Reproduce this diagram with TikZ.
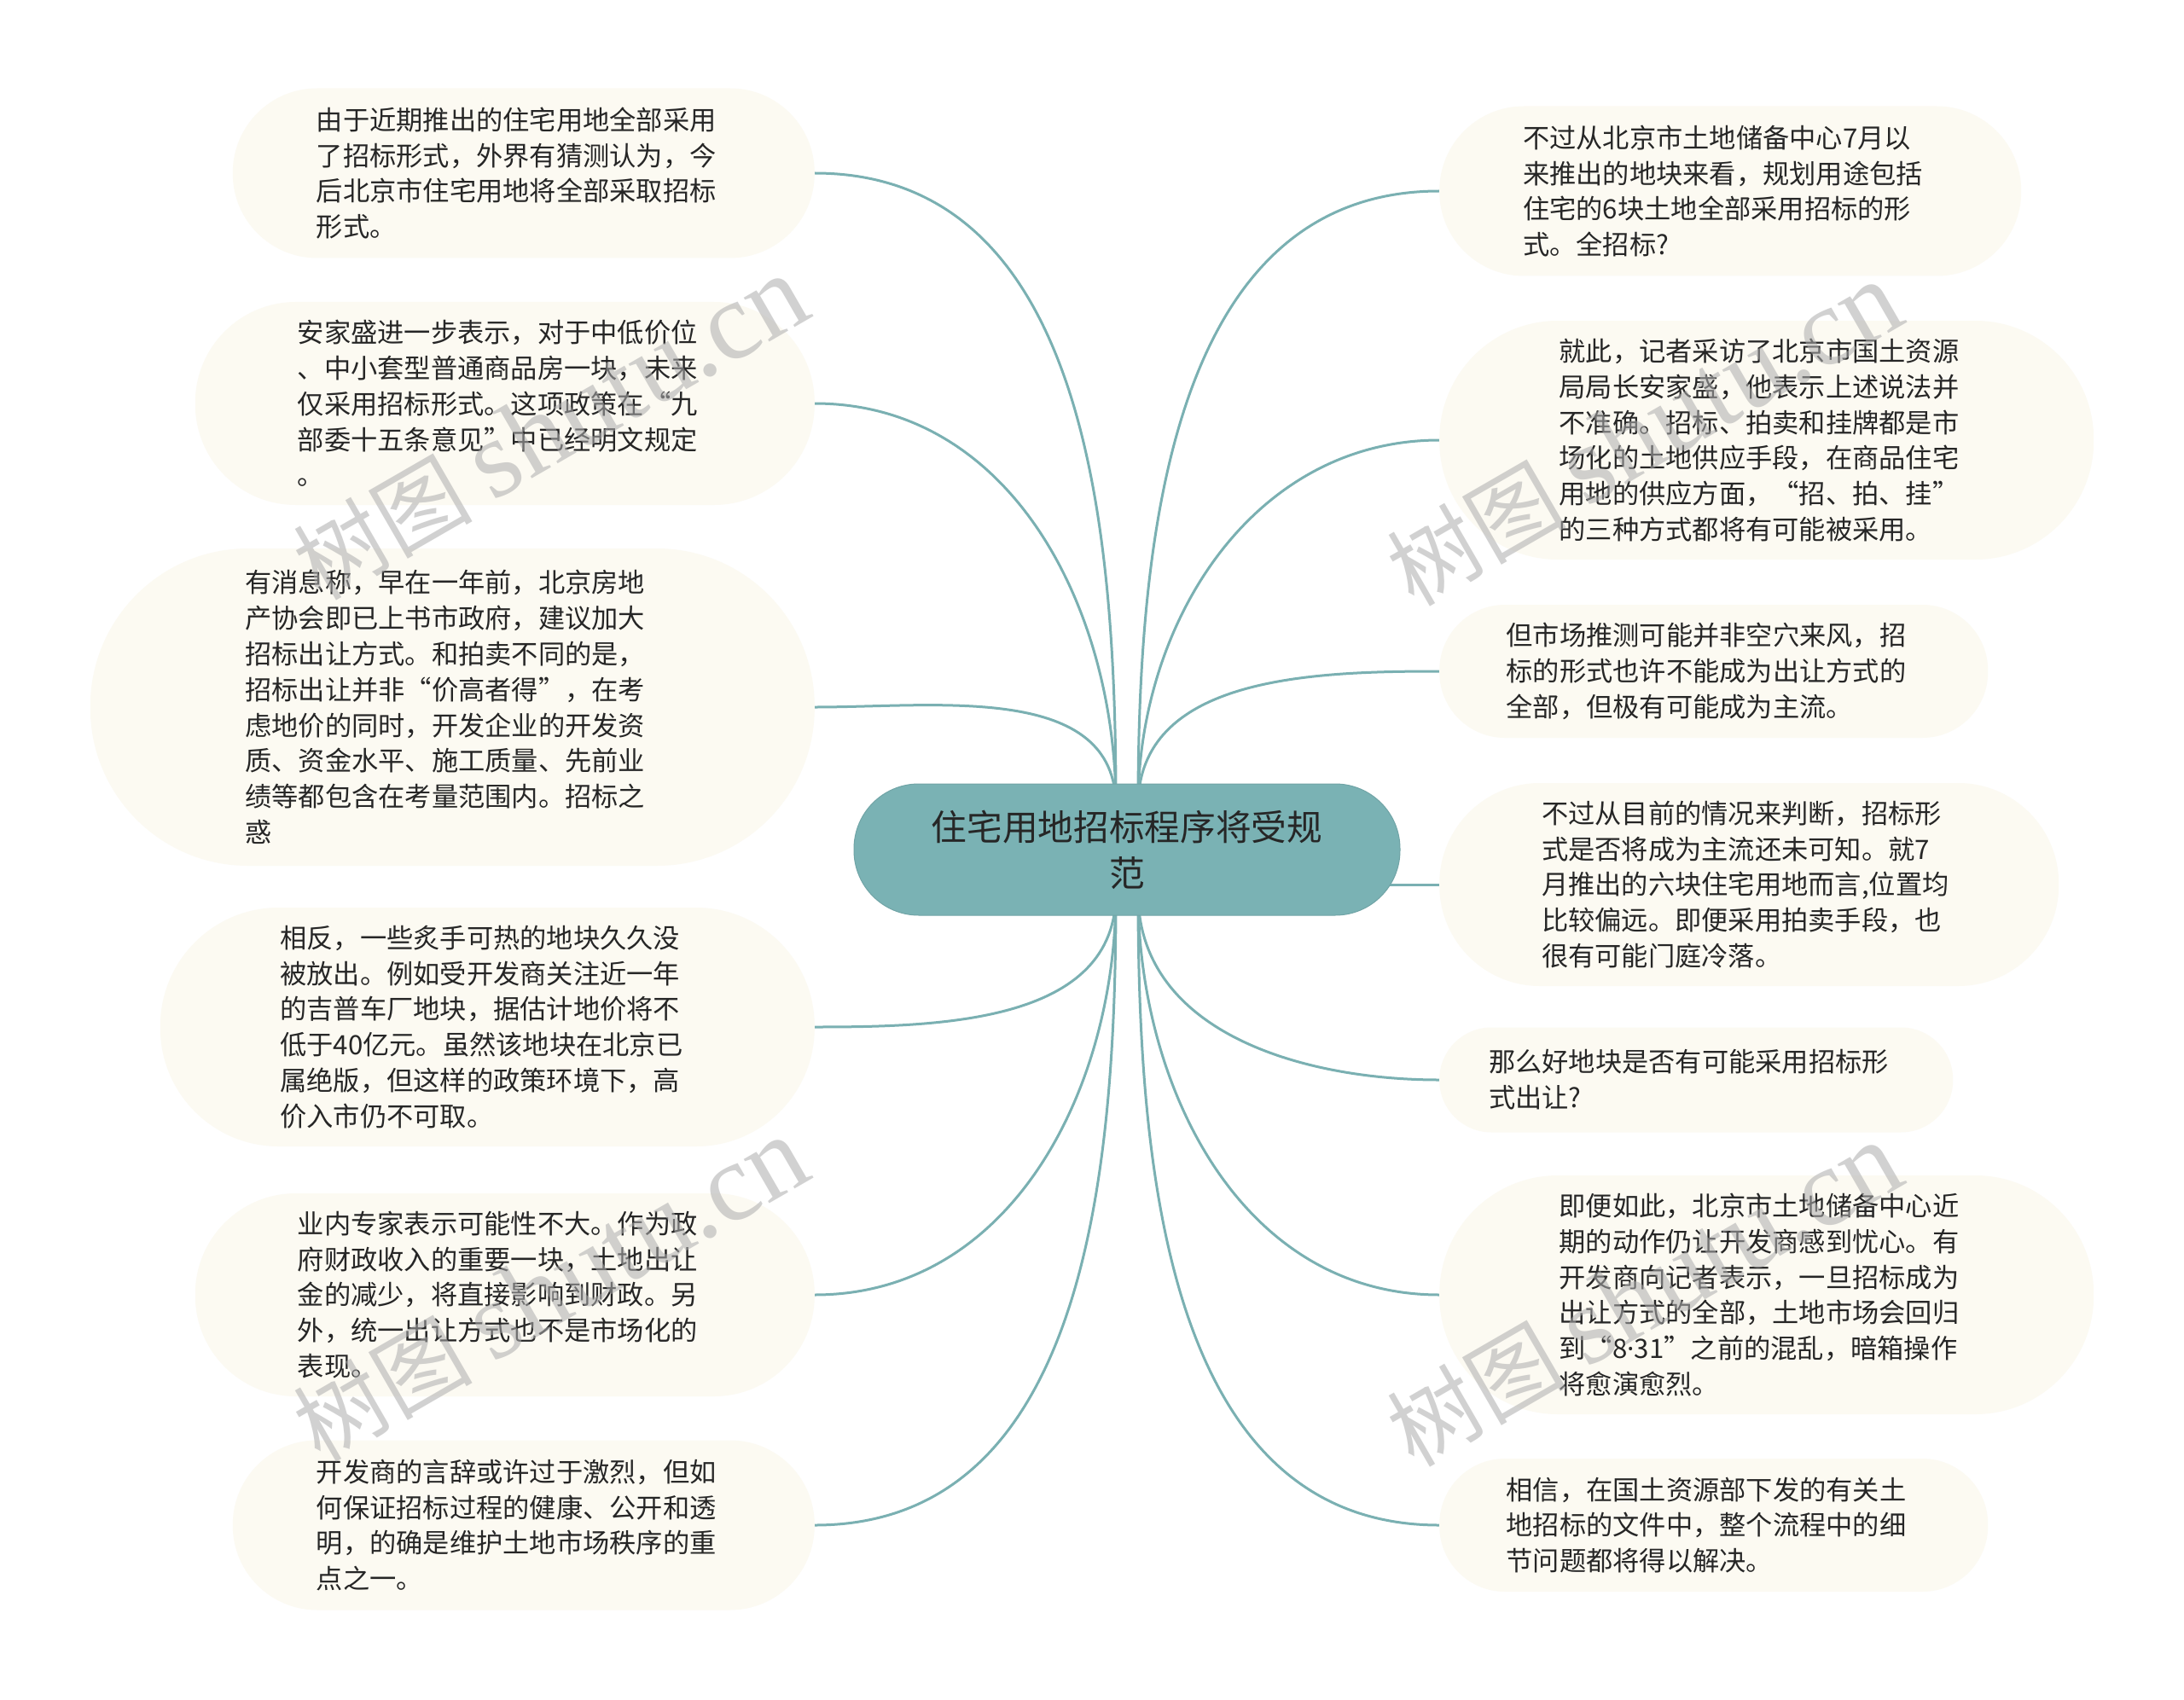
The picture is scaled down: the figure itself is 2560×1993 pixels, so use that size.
\documentclass[tikz,border=0pt]{standalone}
\usepackage{fontspec}
\newfontfamily\cjk{Noto Sans CJK SC}
\newfontfamily\wmlatin{Liberation Serif}
\newfontfamily\lsans{Noto Sans}
\usetikzlibrary{backgrounds}
\definecolor{mmteal}{RGB}{122,178,180}
\definecolor{mmline}{RGB}{122,176,178}
\definecolor{bubfill}{RGB}{252,250,242}
\definecolor{txt}{RGB}{38,38,38}
\begin{document}
\begin{tikzpicture}[x=1pt,y=-1pt,
  bub/.style={fill=bubfill, draw=none, inner sep=0pt, align=left, text width=486pt, text=txt,
    font=\cjk\fontsize{31.25}{41.8}\selectfont},
  szA/.style={minimum width=602pt, minimum height=123pt, rounded corners=61pt},
  szB/.style={minimum width=643pt, minimum height=156pt, rounded corners=77pt},
  szC/.style={minimum width=682pt, minimum height=199pt, rounded corners=99pt},
  szD/.style={minimum width=726pt, minimum height=238pt, rounded corners=118pt},
  szE/.style={minimum width=767pt, minimum height=280pt, rounded corners=139pt},
  szF/.style={minimum width=849pt, minimum height=372pt, rounded corners=185pt},
  leftbub/.style={bub, anchor=east},
  rightbub/.style={bub, anchor=west},
  conn/.style={draw=mmline, line width=3pt},
  root/.style={fill=mmteal, draw=mmteal!92!black, line width=1pt, rounded corners=76pt,
    minimum width=640pt, minimum height=154pt, inner sep=0pt, align=center,
    text=txt, font=\cjk\fontsize{41.7}{54}\selectfont},
  wm/.style={rotate=30, text=black!32, opacity=0.55, inner sep=0pt}
]
\useasboundingbox (0,0) rectangle (2560,1993);

% central topic
\node[root] (c) at (1321,996) {住宅用地招标程序将受规\\范};

% left branches
\node[leftbub, szC] (l1) at (955,203) {由于近期推出的住宅用地全部采用\\了招标形式，外界有猜测认为，今\\后北京市住宅用地将全部采取招标\\形式。};
\node[leftbub, szD] (l2) at (955,473) {安家盛进一步表示，对于中低价位\\、中小套型普通商品房一块，未来\\仅采用招标形式。这项政策在“九\\部委十五条意见”中已经明文规定\\。};
\node[leftbub, szF] (l3) at (955,829) {有消息称，早在一年前，北京房地\\产协会即已上书市政府，建议加大\\招标出让方式。和拍卖不同的是，\\招标出让并非“价高者得”，在考\\虑地价的同时，开发企业的开发资\\质、资金水平、施工质量、先前业\\绩等都包含在考量范围内。招标之\\惑};
\node[leftbub, szE] (l4) at (955,1204) {相反，一些炙手可热的地块久久没\\被放出。例如受开发商关注近一年\\的吉普车厂地块，据估计地价将不\\低于40亿元。虽然该地块在北京已\\属绝版，但这样的政策环境下，高\\价入市仍不可取。};
\node[leftbub, szD] (l5) at (955,1518) {业内专家表示可能性不大。作为政\\府财政收入的重要一块，土地出让\\金的减少，将直接影响到财政。另\\外，统一出让方式也不是市场化的\\表现。};
\node[leftbub, szC] (l6) at (955,1788) {开发商的言辞或许过于激烈，但如\\何保证招标过程的健康、公开和透\\明，的确是维护土地市场秩序的重\\点之一。};

% right branches
\node[rightbub, szC] (r1) at (1687,224) {不过从北京市土地储备中心7月以\\来推出的地块来看，规划用途包括\\住宅的6块土地全部采用招标的形\\式。全招标?};
\node[rightbub, szE] (r2) at (1687,516) {就此，记者采访了北京市国土资源\\局局长安家盛，他表示上述说法并\\不准确。招标、拍卖和挂牌都是市\\场化的土地供应手段，在商品住宅\\用地的供应方面，“招、拍、挂”\\的三种方式都将有可能被采用。};
\node[rightbub, szB] (r3) at (1687,787) {但市场推测可能并非空穴来风，招\\标的形式也许不能成为出让方式的\\全部，但极有可能成为主流。};
\node[rightbub, szD] (r4) at (1687,1037) {不过从目前的情况来判断，招标形\\式是否将成为主流还未可知。就7\\月推出的六块住宅用地而言,位置均\\比较偏远。即便采用拍卖手段，也\\很有可能门庭冷落。};
\node[rightbub, szA] (r5) at (1687,1266) {那么好地块是否有可能采用招标形\\式出让?};
\node[rightbub, szE] (r6) at (1687,1518) {即便如此，北京市土地储备中心近\\期的动作仍让开发商感到忧心。有\\开发商向记者表示，一旦招标成为\\出让方式的全部，土地市场会回归\\到“8{\lsans ·}31”之前的混乱，暗箱操作\\将愈演愈烈。};
\node[rightbub, szB] (r7) at (1687,1788) {相信，在国土资源部下发的有关土\\地招标的文件中，整个流程中的细\\节问题都将得以解决。};

% connector start points inside the central topic
\coordinate (tl) at (1308,945);
\coordinate (tr) at (1334,945);
\coordinate (bl) at (1308,1047);
\coordinate (br) at (1334,1047);

\begin{pgfonlayer}{background}
  \fill[white] (0,0) rectangle (2560,1993);
  \draw[conn] (tl) to[out=90,in=0] (l1.east);
  \draw[conn] (tl) to[out=90,in=0] (l2.east);
  \draw[conn] (tl) to[out=90,in=0] (l3.east);
  \draw[conn] (bl) to[out=-90,in=0] (l4.east);
  \draw[conn] (bl) to[out=-90,in=0] (l5.east);
  \draw[conn] (bl) to[out=-90,in=0] (l6.east);
  \draw[conn] (tr) to[out=90,in=180] (r1.west);
  \draw[conn] (tr) to[out=90,in=180] (r2.west);
  \draw[conn] (tr) to[out=90,in=180] (r3.west);
  \draw[conn] (c.center |- r4.west) -- (r4.west);
  \draw[conn] (br) to[out=-90,in=180] (r5.west);
  \draw[conn] (br) to[out=-90,in=180] (r6.west);
  \draw[conn] (br) to[out=-90,in=180] (r7.west);
\end{pgfonlayer}

% watermarks
\node[wm] (wm1) at (645,502) {\cjk\fontsize{105}{105}\selectfont 树图\ \wmlatin\fontsize{130}{130}\selectfont shutu.cn};
\node[wm] (wm2) at (645,1512) {\cjk\fontsize{105}{105}\selectfont 树图\ \wmlatin\fontsize{130}{130}\selectfont shutu.cn};
\node[wm] (wm3) at (1927,509) {\cjk\fontsize{105}{105}\selectfont 树图\ \wmlatin\fontsize{130}{130}\selectfont shutu.cn};
\node[wm] (wm4) at (1927,1518) {\cjk\fontsize{105}{105}\selectfont 树图\ \wmlatin\fontsize{130}{130}\selectfont shutu.cn};
\end{tikzpicture}
\end{document}
